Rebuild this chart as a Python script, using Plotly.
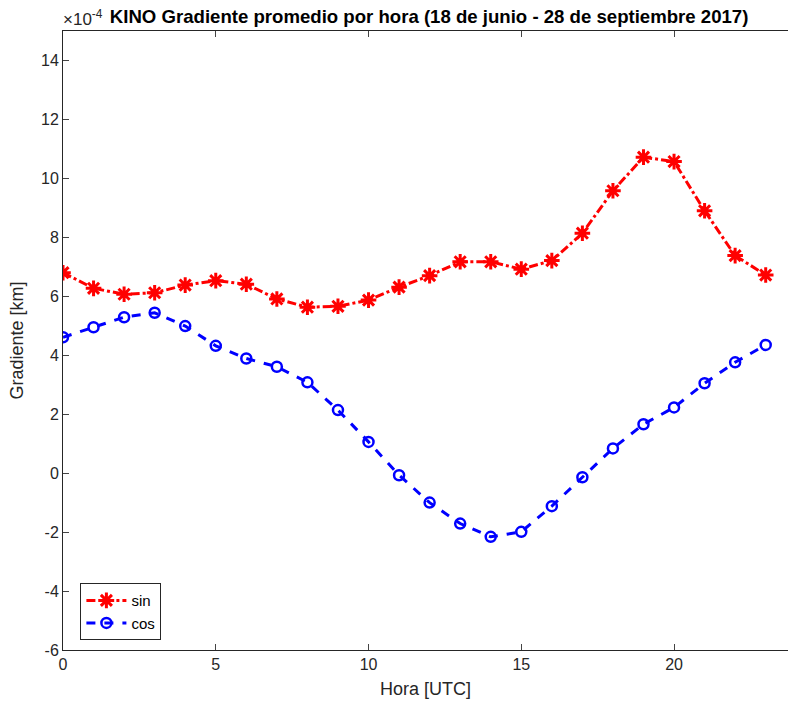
import plotly.graph_objects as go

# Hourly mean gradient (units of 1e-4 km)
horas = list(range(24))
grad_sin = [6.80, 6.27, 6.07, 6.12, 6.38, 6.53, 6.41, 5.91, 5.63, 5.66,
            5.87, 6.31, 6.70, 7.17, 7.17, 6.92, 7.21, 8.14, 9.58, 10.72,
            10.57, 8.90, 7.38, 6.72]
grad_cos = [4.61, 4.95, 5.29, 5.44, 4.99, 4.32, 3.89, 3.61, 3.08, 2.14,
            1.06, -0.07, -1.00, -1.71, -2.16, -1.99, -1.12, -0.14, 0.84, 1.66,
            2.23, 3.05, 3.76, 4.35]

y_ticks = list(range(-6, 15, 2))
y_ticktext = [str(v) for v in y_ticks]
x_ticks = [0, 5, 10, 15, 20]

FONT = "Liberation Sans, Helvetica, Arial, sans-serif"
INK = "#262626"

fig = go.Figure()
fig.add_trace(go.Scatter(
    x=horas, y=grad_sin, name="sin", mode="lines+markers",
    line=dict(color="#ff0000", width=3, dash="dashdot"),
    marker=dict(symbol="asterisk-open", size=13, color="#ff0000",
                line=dict(color="#ff0000", width=3)),
))
fig.add_trace(go.Scatter(
    x=horas, y=grad_cos, name="cos", mode="lines+markers",
    line=dict(color="#0000ff", width=3, dash="dash"),
    marker=dict(symbol="circle-open", size=10, color="#0000ff",
                line=dict(color="#0000ff", width=2.5)),
))

fig.update_layout(
    width=788, height=706,
    margin=dict(l=63, r=0, t=31, b=56),
    paper_bgcolor="white", plot_bgcolor="white",
    font=dict(family=FONT, size=16, color=INK),
    showlegend=True,
    legend=dict(
        x=0.024, y=0.108, xanchor="left", yanchor="top",
        bgcolor="white", bordercolor=INK, borderwidth=1,
        font=dict(size=15, color="black"),
        tracegroupgap=0, itemwidth=40,
    ),
    title=dict(
        text="<b>KINO Gradiente promedio por hora (18 de junio - 28 de septiembre 2017)</b>",
        xref="paper", x=0.505, xanchor="center",
        yref="container", y=0.977, yanchor="middle",
        font=dict(family=FONT, size=18.6, color="black"),
    ),
)

fig.update_xaxes(
    range=[0, 23.73], tickvals=x_ticks, ticks="inside", ticklen=6,
    showline=True, linecolor=INK, linewidth=1, mirror="ticks",
    showgrid=False, zeroline=False,
    tickfont=dict(size=16, color=INK),
    title=dict(text="Hora [UTC]", font=dict(size=18, color=INK), standoff=10),
)
fig.update_yaxes(
    range=[-6, 15], tickvals=y_ticks, ticktext=y_ticktext,
    ticks="inside", ticklen=6,
    showline=True, linecolor=INK, linewidth=1, mirror=False,
    showgrid=False, zeroline=False,
    tickfont=dict(size=16, color=INK),
    title=dict(text="Gradiente [km]", font=dict(size=18, color=INK), standoff=12),
)

# Exponent label shared by the y axis
fig.add_annotation(
    text="×10<sup>-4</sup>", xref="paper", yref="paper",
    x=0.0, y=1.0, xanchor="left", yanchor="bottom", yshift=0, xshift=-2,
    showarrow=False, font=dict(family=FONT, size=17, color=INK),
)

fig.write_html("out.html")
